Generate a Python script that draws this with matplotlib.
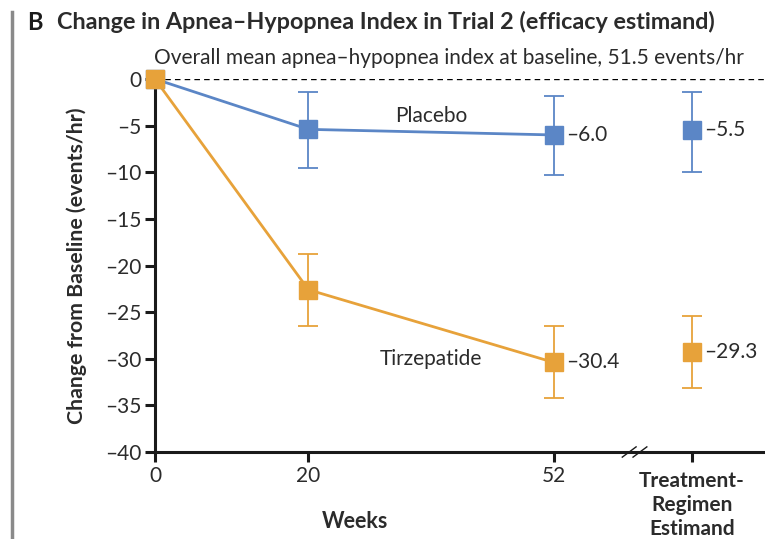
import matplotlib
matplotlib.use("Agg")
import matplotlib.pyplot as plt
from matplotlib.lines import Line2D

plt.rcParams['font.family'] = ['Lato', 'DejaVu Sans']

# ---- data ----
weeks = [0, 20, 52]
tick_labels = ["0", "20", "52"]
placebo_mean = [0.0, -5.4, -6.0]
placebo_lo = [0.0, -9.5, -10.3]
placebo_hi = [0.0, -1.4, -1.8]
tirz_mean = [0.0, -22.6, -30.4]
tirz_lo = [0.0, -26.5, -34.2]
tirz_hi = [0.0, -18.8, -26.5]
trt_label = "Treatment-\nRegimen\nEstimand"
placebo_trt = -5.5
placebo_trt_ci = (-10.0, -1.4)
tirz_trt = -29.3
tirz_trt_ci = (-33.1, -25.4)
baseline_text = "Overall mean apnea\u2013hypopnea index at baseline, 51.5 events/hr"

BLUE = "#5B86C6"
ORANGE = "#E7A23A"
TXT = "#2b2b2b"
TRT_X = 70      # position of the treatment-regimen column
BREAK_X = 62.5  # axis break position

def fmt(v):
    return ("\u2013" if v < 0 else "") + f"{abs(v):.1f}"

fig = plt.figure(figsize=(7.65, 5.39), dpi=100)
ax = fig.add_axes([155/765, 1-452/539, 1-155/765, (452-79)/539])
ax.set_xlim(0, 79.5)
ax.set_ylim(-40, 0)

# dashed baseline
ax.axhline(0, color="black", lw=1.0, ls=(0, (4, 3)), zorder=1)

def draw(series_mean, lo, hi, trt, trt_ci, color):
    ax.plot(weeks, series_mean, color=color, lw=2.0, zorder=3, clip_on=False)
    for x, m, l, h in zip(weeks[1:], series_mean[1:], lo[1:], hi[1:]):
        ax.errorbar([x], [m], yerr=[[m - l], [h - m]], fmt="none",
                    ecolor=color, elinewidth=1.3, capsize=7, capthick=1.3, zorder=2)
    ax.errorbar([TRT_X], [trt], yerr=[[trt - trt_ci[0]], [trt_ci[1] - trt]], fmt="none",
                ecolor=color, elinewidth=1.3, capsize=7, capthick=1.3, zorder=2)
    ax.plot(weeks, series_mean, ls="none", marker="s", ms=12.5, color=color,
            zorder=4, clip_on=False)
    ax.plot([TRT_X], [trt], ls="none", marker="s", ms=12.5, color=color, zorder=4)
    ax.annotate(fmt(series_mean[-1]), (weeks[-1], series_mean[-1]), xytext=(9, 0),
                textcoords="offset points", va="center", ha="left", fontsize=15, color=TXT)
    ax.annotate(fmt(trt), (TRT_X, trt), xytext=(9, 0),
                textcoords="offset points", va="center", ha="left", fontsize=15, color=TXT)

draw(placebo_mean, placebo_lo, placebo_hi, placebo_trt, placebo_trt_ci, BLUE)
# orange start marker drawn on top
draw(tirz_mean, tirz_lo, tirz_hi, tirz_trt, tirz_trt_ci, ORANGE)

ax.text(36, -4.0, "Placebo", fontsize=15, color=TXT, ha="center", va="center")
ax.text(36, -30.0, "Tirzepatide", fontsize=15, color=TXT, ha="center", va="center")

# axes styling
for s in ["top", "right"]:
    ax.spines[s].set_visible(False)
ax.spines["left"].set_linewidth(2.2)
ax.spines["bottom"].set_linewidth(2.2)
ax.spines["left"].set_color("#1a1a1a")
ax.spines["bottom"].set_color("#1a1a1a")

yt = list(range(0, -41, -5))
ax.set_yticks(yt)
ax.set_yticklabels([("\u2013" if v < 0 else "") + str(abs(v)) for v in yt], fontsize=15, color=TXT)
ax.set_xticks(weeks + [TRT_X])
ax.set_xticklabels(tick_labels + [""], fontsize=15, color=TXT)
ax.tick_params(axis="both", direction="out", length=7, width=2.2, color="#1a1a1a", pad=3)
ax.text(TRT_X, -42.0, trt_label, ha="center", va="top", fontsize=15,
        fontweight="bold", color=TXT, linespacing=1.25)

# axis break marks
for dx in (-0.7, 0.7):
    ax.plot([BREAK_X + dx - 0.9, BREAK_X + dx + 0.9], [-40.55, -39.45], color="#1a1a1a",
            lw=1.0, clip_on=False, zorder=5)

ax.set_xlabel("Weeks", fontsize=15.5, fontweight="bold", color=TXT)
ax.xaxis.set_label_coords((355-155)/610, -0.157)
ax.set_ylabel("Change from Baseline (events/hr)", fontsize=15.3, fontweight="bold", color=TXT)
ax.yaxis.set_label_coords(-(155-87)/610, 0.5)

# titles
fig.text(27/765, 1-22/539, "B", fontsize=17, fontweight="bold", color="#1a1a1a", va="center")
fig.text(57/765, 1-22/539, "Change in Apnea\u2013Hypopnea Index in Trial 2 (efficacy estimand)",
         fontsize=16.8, fontweight="bold", color=TXT, va="center")
fig.text(449/765, 1-58/539, baseline_text, fontsize=15, color=TXT, ha="center", va="center")

# left panel border
fig.add_artist(Line2D([12/765, 12/765], [0, 1-12/539], color="#8a8a8a", lw=2.5))

fig.savefig("out.png", dpi=100)
